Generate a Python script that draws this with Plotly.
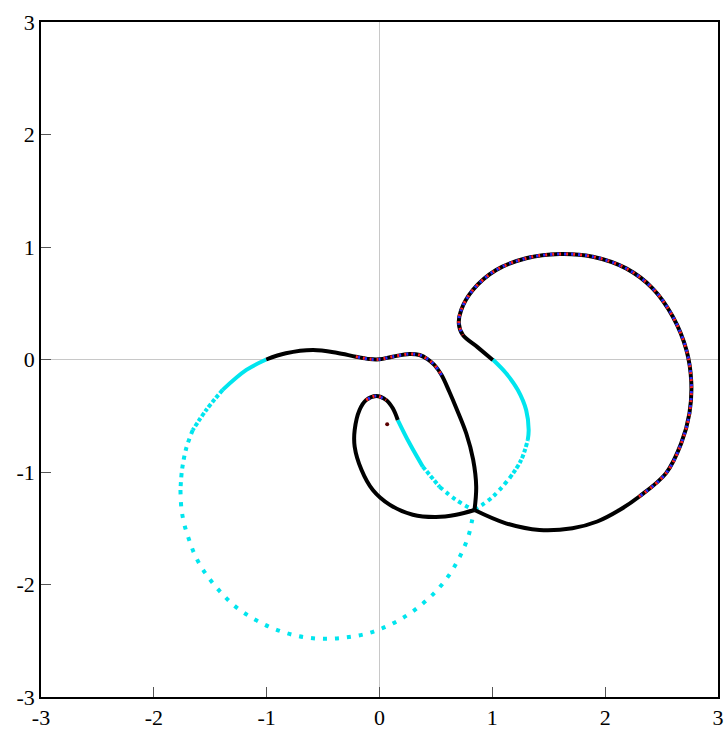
import plotly.graph_objects as go

# black curve, upper branch: (-1, 0) -> crossing point
top_x = [-1.004, -0.83, -0.59, -0.38, -0.21, -0.09, 0.0, 0.115, 0.266, 0.355, 0.425,
         0.487, 0.55, 0.62, 0.68, 0.77, 0.83, 0.857, 0.842]
top_y = [0.0, 0.055, 0.084, 0.06, 0.025, 0.004, 0.002, 0.025, 0.049, 0.04, 0.004,
         -0.049, -0.138, -0.289, -0.431, -0.66, -0.89, -1.13, -1.338]

# black curve, small loop: crossing -> (0.16, -0.54)
loop_x = [0.842, 0.68, 0.50, 0.295, 0.089, -0.059, -0.16, -0.22, -0.22, -0.177,
          -0.118, -0.03, 0.059, 0.118, 0.162]
loop_y = [-1.338, -1.38, -1.40, -1.38, -1.29, -1.16, -0.98, -0.775, -0.627, -0.449,
          -0.36, -0.324, -0.36, -0.434, -0.538]

# black curve, big loop: crossing -> (1, 0)
big_x = [0.842, 1.12, 1.418, 1.71, 1.93, 2.127, 2.30, 2.54, 2.674, 2.747, 2.763, 2.72,
         2.60, 2.42, 2.186, 1.89, 1.595, 1.30, 1.034, 0.827, 0.724, 0.703, 0.738,
         0.871, 1.004]
big_y = [-1.338, -1.456, -1.516, -1.50, -1.44, -1.338, -1.22, -1.01, -0.745, -0.478, -0.2,
         0.084, 0.38, 0.633, 0.81, 0.914, 0.938, 0.90, 0.796, 0.618, 0.44, 0.32,
         0.218, 0.108, -0.004]

# cyan curve, left/bottom circle: (-1, 0) -> crossing
circ_x = [-1.004, -1.18, -1.39, -1.536, -1.655, -1.713, -1.75, -1.764, -1.755,
          -1.728, -1.684, -1.625, -1.536, -1.424, -1.285, -1.123, -0.937, -0.736,
          -0.526, -0.319, -0.115, 0.071, 0.239, 0.387, 0.508, 0.612, 0.689, 0.75,
          0.795, 0.82, 0.842]
circ_y = [0.0, -0.093, -0.27, -0.449, -0.627, -0.79, -0.98, -1.16, -1.33,
          -1.471, -1.613, -1.762, -1.91, -2.05, -2.19, -2.30, -2.393, -2.455,
          -2.482, -2.473, -2.437, -2.369, -2.277, -2.167, -2.052, -1.924, -1.797, -1.67,
          -1.545, -1.433, -1.338]

# cyan curve, right arc: crossing -> (1, 0)
arc_x = [0.842, 1.004, 1.152, 1.256, 1.314, 1.322, 1.30, 1.226, 1.12, 1.004]
arc_y = [-1.338, -1.22, -1.056, -0.893, -0.716, -0.627, -0.45, -0.271, -0.12, 0.0]

# cyan curve, inner branch: (0.16, -0.54) -> crossing
inner_x = [0.162, 0.266, 0.384, 0.532, 0.68, 0.836]
inner_y = [-0.538, -0.745, -0.953, -1.131, -1.249, -1.338]

# lone point
pt_x = [0.068]
pt_y = [-0.576]

tick_vals = [-3, -2, -1, 0, 1, 2, 3]
tick_text = ["-3", "-2", "-1", "0", "1", "2", "3"]

CYAN = "#00e5ee"

fig = go.Figure()


def add_line(xs, ys, color, width, dash="solid"):
    fig.add_trace(go.Scatter(x=xs, y=ys, mode="lines", showlegend=False,
                             hoverinfo="skip",
                             line=dict(color=color, width=width, dash=dash,
                                       shape="spline", smoothing=1.0)))


# cyan, dot spacing grows away from the black ends
add_line(circ_x[0:3], circ_y[0:3], CYAN, 4)
add_line(circ_x[2:5], circ_y[2:5], CYAN, 4, "4px,2px")
add_line(circ_x[4:8], circ_y[4:8], CYAN, 4, "4px,5px")
add_line(circ_x[7:], circ_y[7:], CYAN, 4, "4px,8px")

add_line(arc_x[0:3], arc_y[0:3], CYAN, 4, "4px,4px")
add_line(arc_x[2:5], arc_y[2:5], CYAN, 4, "4px,2px")
add_line(arc_x[4:], arc_y[4:], CYAN, 4)

add_line(inner_x[0:3], inner_y[0:3], CYAN, 4)
add_line(inner_x[2:4], inner_y[2:4], CYAN, 4, "4px,2px")
add_line(inner_x[3:], inner_y[3:], CYAN, 4, "4px,4px")

# black curves
for xs, ys in [(top_x, top_y), (loop_x, loop_y), (big_x, big_y)]:
    add_line(xs, ys, "#000000", 4)

# red / blue dotted overlay on parts of the black curve
for xs, ys in [(top_x[4:13], top_y[4:13]), (loop_x[10:13], loop_y[10:13]),
               (big_x[6:23], big_y[6:23])]:
    add_line(xs, ys, "#ff2020", 3, "2px,5px")
    add_line(xs, ys, "#2a2aff", 3, "0px,2px,2px,3px")

fig.add_trace(go.Scatter(x=pt_x, y=pt_y, mode="markers", showlegend=False,
                         hoverinfo="skip",
                         marker=dict(color="#5a0000", size=4)))

axis = dict(range=[-3, 3], tickvals=tick_vals, ticktext=tick_text,
            showgrid=False, zeroline=True, automargin=False,
            zerolinecolor="#c8c8c8", zerolinewidth=1, showline=True,
            linecolor="black", linewidth=1.5, mirror=True, ticks="inside",
            ticklen=10, tickcolor="#555555", tickwidth=1,
            tickfont=dict(family="Times New Roman, DejaVu Serif",
                          size=22, color="black"))

fig.update_layout(
    width=728, height=738,
    margin=dict(l=41, r=10, t=22, b=41),
    paper_bgcolor="white", plot_bgcolor="white",
    xaxis=axis, yaxis=axis,
)

# drop the page's default 8px body margin so the figure fills the window
fig.write_html("out.html", config={"displayModeBar": False},
               post_script="document.body.style.margin = '0px';")
